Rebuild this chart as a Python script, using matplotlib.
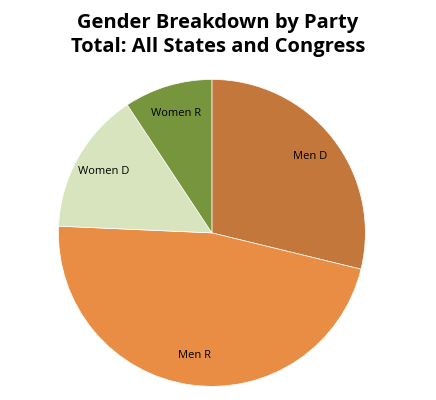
import matplotlib
matplotlib.use("Agg")
import matplotlib.pyplot as plt

# slice values (share of seats)
labels = ["Men D", "Men R", "Women D", "Women R"]
values = [28.8, 46.9, 15.0, 9.3]
colors = ["#C4773A", "#E88D43", "#D7E4BD", "#77953D"]

fig = plt.figure(figsize=(4.36, 4.0), dpi=100)
ax = fig.add_axes([0.134, 0.034, 0.704, 0.7675])

wedges, texts = ax.pie(values, labels=labels, colors=colors, startangle=90,
                       counterclock=False, labeldistance=0.81, radius=1,
                       wedgeprops=dict(edgecolor="white", linewidth=0.5),
                       textprops=dict(fontsize=8, family="Open Sans", color="black"))
for t in texts:
    t.set_ha("center")
    t.set_va("center")

ax.set_xlim(-1, 1)
ax.set_ylim(-1, 1)
ax.set_aspect("equal")
ax.axis("off")

fig.text(0.5, 0.912, "Gender Breakdown by Party\nTotal: All States and Congress",
         ha="center", va="center", fontsize=14.5, fontweight="bold",
         family="Open Sans", linespacing=1.25)

fig.savefig("out.png", dpi=100, facecolor="white")
